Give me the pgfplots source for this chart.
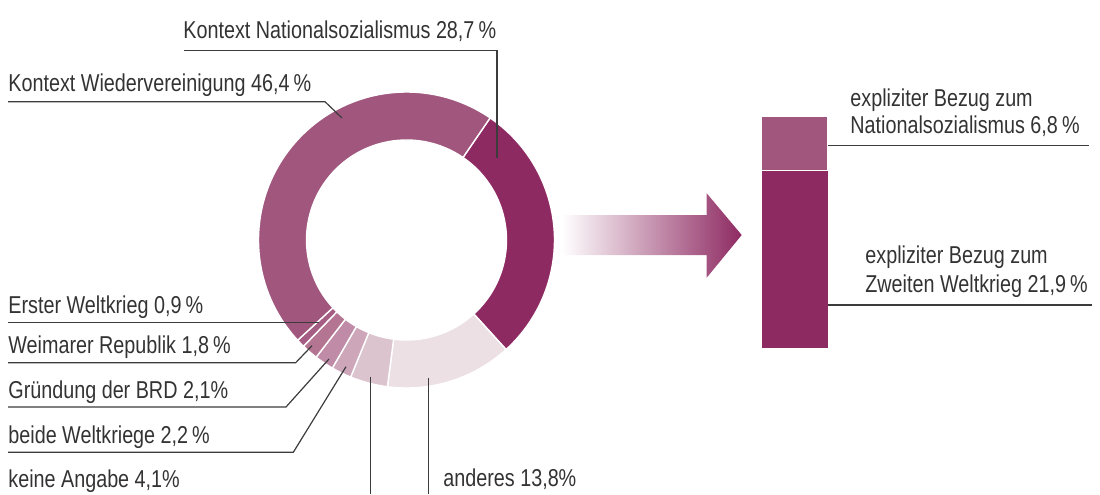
\documentclass[border=0pt]{standalone}
\usepackage{pgfplots}
\pgfplotsset{compat=1.18}
\usepackage{fontspec}
\setmainfont{Liberation Sans}[FakeStretch=0.81]
\definecolor{cNS}{HTML}{8E2A62}
\definecolor{cW}{HTML}{A0567D}
\definecolor{cEW}{HTML}{A65D84}
\definecolor{cWR}{HTML}{B47592}
\definecolor{cGB}{HTML}{BF8BA6}
\definecolor{cBW}{HTML}{CDA6B9}
\definecolor{cKA}{HTML}{DCC4CF}
\definecolor{cAN}{HTML}{ECE0E5}
\definecolor{txt}{HTML}{333333}
\definecolor{ln}{HTML}{3C3C3C}
% donut segment: #1 start (percent, cumulative), #2 value (percent), #3 colour
\newcommand{\seg}[3]{%
  \fill[#3,draw=white,line width=0.7pt]
    (axis cs:{406.5+148*cos(55.6-3.6*(#1))},{254+148*sin(55.6-3.6*(#1))})
    arc[start angle={55.6-3.6*(#1)}, end angle={55.6-3.6*(#1+#2)}, radius=74pt]
    -- (axis cs:{406.5+100*cos(55.6-3.6*(#1+#2))},{254+100*sin(55.6-3.6*(#1+#2))})
    arc[start angle={55.6-3.6*(#1+#2)}, end angle={55.6-3.6*(#1)}, radius=50pt]
    -- cycle;}
\begin{document}
\begin{tikzpicture}[every node/.style={font=\fontsize{12.2}{14}\selectfont,text=txt,inner sep=0pt}]
\begin{axis}[at={(0,0)},anchor=south west,x=0.5pt,y=0.5pt,
  xmin=0,xmax=1100,ymin=0,ymax=494,hide axis,clip=false,scale only axis]
\path (axis cs:0,0) rectangle (axis cs:1100,494);
% donut (start, value, colour)
\seg{0}{28.7}{cNS}
\seg{28.7}{13.8}{cAN}
\seg{42.5}{4.1}{cKA}
\seg{46.6}{2.2}{cBW}
\seg{48.8}{2.1}{cGB}
\seg{50.9}{1.8}{cWR}
\seg{52.7}{0.9}{cEW}
\seg{53.6}{46.4}{cW}
% arrow
\shade[left color=white,right color=cNS]
  (axis cs:561.7,279) -- (axis cs:706.7,279) -- (axis cs:706.7,300.7)
  -- (axis cs:741.7,259) -- (axis cs:706.7,216.3) -- (axis cs:706.7,239)
  -- (axis cs:561.7,239) -- cycle;
% leader lines
\begin{scope}[ln,line width=0.6pt]
\draw (axis cs:184,443.3) -- (axis cs:497,443.3) -- (axis cs:497,336);
\draw (axis cs:8,392.3) -- (axis cs:325,392.3) -- (axis cs:342,376);
\draw (axis cs:8,171.3) -- (axis cs:319,171.3);
\draw (axis cs:8,131.3) -- (axis cs:295.7,131.3) -- (axis cs:312,148.3);
\draw (axis cs:8,87) -- (axis cs:286,87) -- (axis cs:329,135);
\draw (axis cs:8,41.7) -- (axis cs:293.3,41.7) -- (axis cs:346,127.3);
\draw (axis cs:370.7,117.3) -- (axis cs:370.7,0);
\draw (axis cs:428.3,116.3) -- (axis cs:428.3,0);
\draw (axis cs:821.7,348.3) -- (axis cs:1089,348.3);
\draw (axis cs:822,189) -- (axis cs:1091.7,189);
\end{scope}
% labels
\node[anchor=base west] at (axis cs:183,455.7) {Kontext Nationalsozialismus 28,7\,\%};
\node[anchor=base west] at (axis cs:8,402.3) {Kontext Wiedervereinigung 46,4\,\%};
\node[anchor=base west] at (axis cs:8,181) {Erster Weltkrieg 0,9\,\%};
\node[anchor=base west] at (axis cs:8,141) {Weimarer Republik 1,8\,\%};
\node[anchor=base west] at (axis cs:8,96) {Gründung der BRD 2,1\%};
\node[anchor=base west] at (axis cs:8,51) {beide Weltkriege 2,2\,\%};
\node[anchor=base west] at (axis cs:8,7) {keine Angabe 4,1\%};
\node[anchor=base west] at (axis cs:443,7.3) {anderes 13,8\%};
\node[anchor=base west] at (axis cs:850,387.3) {expliziter Bezug zum};
\node[anchor=base west] at (axis cs:850,360.7) {Nationalsozialismus 6,8\,\%};
\node[anchor=base west] at (axis cs:865,231) {expliziter Bezug zum};
\node[anchor=base west] at (axis cs:865,202) {Zweiten Weltkrieg 21,9\,\%};
\end{axis}
\begin{axis}[at={(0,0)},anchor=south west,x=0.5pt,y=4.05pt,
  xmin=0,xmax=1100,ymin=-17.99,ymax=43.0,hide axis,clip=false,scale only axis,
  ybar stacked,bar width=33pt]
\addplot[fill=cNS,draw=none] coordinates {(794.7,21.9)};
\addplot[fill=cW,draw=white,line width=0.7pt] coordinates {(794.7,6.8)};
\end{axis}
\end{tikzpicture}
\end{document}
